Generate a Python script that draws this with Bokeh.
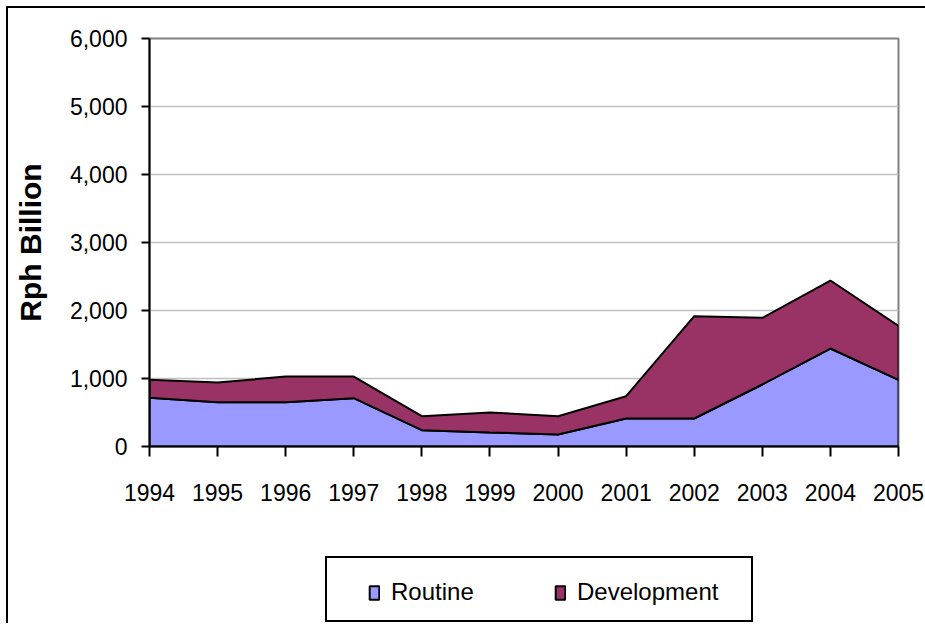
from bokeh.plotting import figure
from bokeh.layouts import column
from bokeh.models import Range1d, FixedTicker, NumeralTickFormatter, Legend, LegendItem
from bokeh.embed import file_html
from bokeh.resources import INLINE

# ---- data ----
years = [1994, 1995, 1996, 1997, 1998, 1999, 2000, 2001, 2002, 2003, 2004, 2005]
routine = [716, 652, 652, 711, 240, 206, 176, 412, 412, 912, 1441, 981]
development = [265, 289, 377, 318, 206, 294, 270, 328, 1505, 980, 1000, 794]
y_ticks = [0, 1000, 2000, 3000, 4000, 5000, 6000]
series_names = ["Routine", "Development"]
series_colors = ["#9999FF", "#993366"]
y_label = "Rph Billion"

FONT = "Liberation Sans"

totals = [r + d for r, d in zip(routine, development)]
routine_poly_x = years + [years[-1], years[0]]
routine_poly_y = routine + [0, 0]
dev_poly_x = years + years[::-1]
dev_poly_y = totals + routine[::-1]

# ---- main chart ----
p = figure(width=917, height=508, output_backend="svg", toolbar_location=None,
           x_range=Range1d(years[0], years[-1]), y_range=Range1d(y_ticks[0], y_ticks[-1]),
           min_border_left=141, min_border_top=30, min_border_right=27, min_border_bottom=70)
p.background_fill_color = "white"
p.border_fill_color = "white"
p.outline_line_color = "#808080"
p.outline_line_width = 2

p.patch(x=routine_poly_x, y=routine_poly_y,
        fill_color=series_colors[0], line_color="black", line_width=2)
p.patch(x=dev_poly_x, y=dev_poly_y,
        fill_color=series_colors[1], line_color="black", line_width=2)

p.xaxis.ticker = FixedTicker(ticks=years)
p.yaxis.ticker = FixedTicker(ticks=y_ticks)
p.yaxis.formatter = NumeralTickFormatter(format="0,0")
for ax in (p.xaxis[0], p.yaxis[0]):
    ax.axis_line_color = "black"
    ax.axis_line_width = 2
    ax.major_tick_line_color = "black"
    ax.major_tick_line_width = 2
    ax.major_tick_in = 0
    ax.minor_tick_line_color = None
    ax.major_label_text_font = FONT
    ax.major_label_text_font_size = "23px"
    ax.major_label_text_color = "black"
p.xaxis.major_tick_out = 10
p.yaxis.major_tick_out = 8
p.xaxis.major_label_standoff = 27
p.yaxis.major_label_standoff = 14
p.yaxis.axis_label = y_label
p.yaxis.axis_label_text_font = FONT
p.yaxis.axis_label_text_font_style = "bold"
p.yaxis.axis_label_text_font_size = "30px"
p.yaxis.axis_label_text_color = "black"
p.yaxis.axis_label_standoff = 20

p.xgrid.visible = False
p.ygrid.grid_line_color = "#C0C0C0"
p.ygrid.grid_line_width = 1.5

# ---- legend strip (its frame is aligned with the chart frame) ----
q = figure(width=917, height=107, output_backend="svg", toolbar_location=None,
           x_range=Range1d(0, 1), y_range=Range1d(0, 1),
           x_axis_type=None, y_axis_type=None, min_border=0)
q.outline_line_color = None
q.grid.visible = False
q.background_fill_color = "white"
q.border_fill_color = "white"

dummy = q.scatter(x=[], y=[], fill_alpha=0, line_alpha=0)
# key renderers: same polygons, lying outside this strip's ranges (never visible)
key_r = [q.patch(x=px, y=py, fill_color=c, line_color="black", line_width=2)
         for px, py, c in zip([routine_poly_x, dev_poly_x], [routine_poly_y, dev_poly_y],
                              series_colors)]

frame_leg = Legend(items=[LegendItem(label=" ", renderers=[dummy])],
                   location=(176, 1), orientation="horizontal",
                   padding=0, spacing=0, margin=0, glyph_width=1, glyph_height=1,
                   label_standoff=0, label_width=423, label_height=62,
                   label_text_font_size="1px",
                   border_line_color="black", border_line_width=2, border_line_alpha=1,
                   background_fill_color="white", background_fill_alpha=1)
q.add_layout(frame_leg, "center")

items_leg = Legend(items=[LegendItem(label=n, renderers=[r])
                          for n, r in zip(series_names, key_r)],
                   location=(219, 16), orientation="horizontal",
                   padding=0, spacing=63, margin=0,
                   glyph_width=12, glyph_height=17, label_standoff=11,
                   label_width=100, label_height=30,
                   label_text_font=FONT, label_text_font_size="24px",
                   label_text_color="black",
                   border_line_color=None, background_fill_alpha=0)
q.add_layout(items_leg, "center")

inner = column(p, q, spacing=0)
inner.styles = {"border-left": "2px solid black", "border-top": "2px solid black"}
layout = column(inner)
layout.styles = {"padding-left": "6px", "padding-top": "6px"}

open("out.html", "w").write(file_html(layout, INLINE))
